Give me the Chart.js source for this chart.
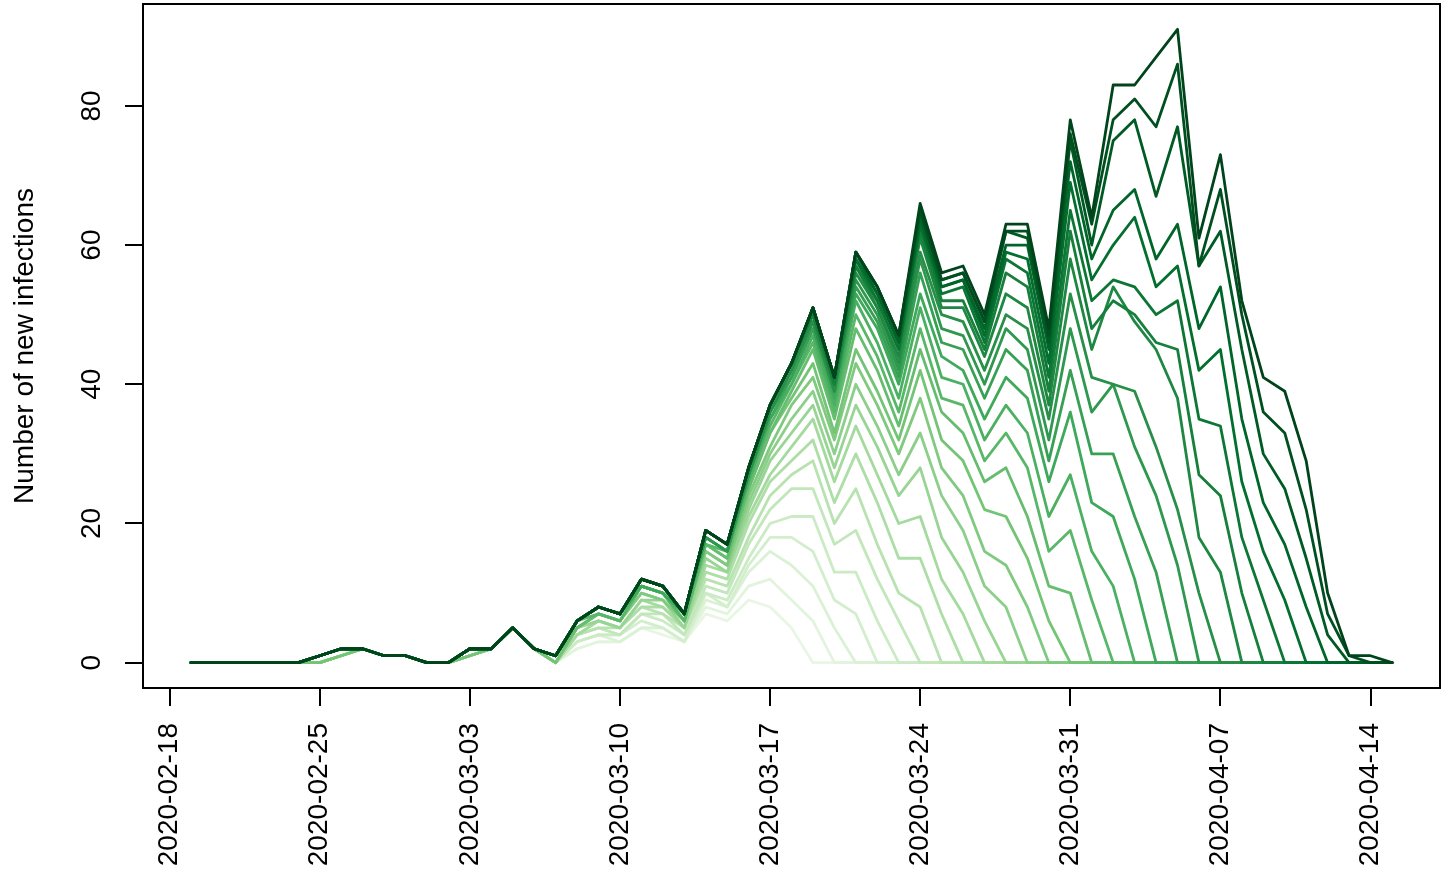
<!DOCTYPE html>
<html>
<head>
<meta charset="utf-8">
<script src="https://cdn.jsdelivr.net/npm/chart.js@4.4.1/dist/chart.umd.min.js"></script>
<style>
  html, body { margin: 0; padding: 0; background: #ffffff; }
  #wrap { width: 1447px; height: 871px; }
</style>
</head>
<body>
<div id="wrap"><canvas id="c" width="1447" height="871"></canvas></div>
<script>
// ---- categories: onset dates (x values) ----
const dates = [
  '2020-02-19','2020-02-20','2020-02-21','2020-02-22','2020-02-23','2020-02-24','2020-02-25','2020-02-26','2020-02-27','2020-02-28','2020-02-29',
  '2020-03-01','2020-03-02','2020-03-03','2020-03-04','2020-03-05','2020-03-06','2020-03-07','2020-03-08','2020-03-09','2020-03-10',
  '2020-03-11','2020-03-12','2020-03-13','2020-03-14','2020-03-15','2020-03-16','2020-03-17','2020-03-18','2020-03-19','2020-03-20',
  '2020-03-21','2020-03-22','2020-03-23','2020-03-24','2020-03-25','2020-03-26','2020-03-27','2020-03-28','2020-03-29','2020-03-30','2020-03-31',
  '2020-04-01','2020-04-02','2020-04-03','2020-04-04','2020-04-05','2020-04-06','2020-04-07','2020-04-08','2020-04-09','2020-04-10',
  '2020-04-11','2020-04-12','2020-04-13','2020-04-14','2020-04-15'
];

// ---- tick labels ----
const xTickLabels = ['2020-02-18','2020-02-25','2020-03-03','2020-03-10','2020-03-17','2020-03-24','2020-03-31','2020-04-07','2020-04-14'];
const yTickValues = [0, 20, 40, 60, 80];
const yTitle = 'Number of new infections';

// ---- series: counts by date, one line per data version (lightest = oldest) ----
const n0319 = [0,0,0,0,0,0,0,1,2,1,1,0,0,1,2,5,2,0, 2,3,3,5,4,3,7,6, 9,8,5,
  0,0,0,0,0, 0,0,0,0,0, 0,0,0,0,0, 0,0,0,0,0, 0,0,0,0,0, 0,0,0];
const n0320 = [0,0,0,0,0,0,0,1,2,1,1,0,0,1,2,5,2,0, 2,3,3,5,5,3,8,7, 11,12,9,6,
  0,0,0,0,0, 0,0,0,0,0, 0,0,0,0,0, 0,0,0,0,0, 0,0,0,0,0, 0,0];
const n0321 = [0,0,0,0,0,0,0,1,2,1,1,0,0,1,2,5,2,0, 3,4,3,5,5,3,9,8, 13,16,14,11,5,
  0,0,0,0,0, 0,0,0,0,0, 0,0,0,0,0, 0,0,0,0,0, 0,0,0,0,0, 0];
const n0322 = [0,0,0,0,0,0,0,1,2,1,1,0,0,1,2,5,2,0, 3,4,4,6,5,3,10,8, 14,18,18,16,9,7,
  0,0,0,0,0, 0,0,0,0,0, 0,0,0,0,0, 0,0,0,0,0, 0,0,0,0,0];
const n0323 = [0,0,0,0,0,0,0,1,2,1,1,0,0,1,2,5,2,0, 3,4,4,7,6,4,10,9, 15,20,21,21,13,13,6,
  0,0,0,0,0, 0,0,0,0,0, 0,0,0,0,0, 0,0,0,0,0, 0,0,0,0];
const n0324 = [0,0,0,0,0,0,0,1,2,1,1,0,0,1,2,5,2,0, 4,5,4,7,7,4,11,10, 17,22,25,25,17,19,12,6,
  0,0,0,0,0, 0,0,0,0,0, 0,0,0,0,0, 0,0,0,0,0, 0,0,0];
const n0325 = [0,0,0,0,0,0,0,1,2,1,1,0,0,1,2,5,2,0, 4,5,5,8,7,5,12,11, 18,24,27,29,20,25,17,10,8,
  0,0,0,0,0, 0,0,0,0,0, 0,0,0,0,0, 0,0,0,0,0, 0,0];
const n0326 = [0,0,0,0,0,0,0,1,2,1,1,0,0,1,2,5,2,0, 4,6,5,8,8,5,13,12, 20,26,29,32,23,30,23,15,15,7,
  0,0,0,0,0, 0,0,0,0,0, 0,0,0,0,0, 0,0,0,0,0, 0];
const n0327 = [0,0,0,0,0,0,0,1,2,1,1,0,0,1,2,5,2,0, 4,6,5,9,8,5,14,13, 21,27,31,35,26,34,27,20,21,12,7,
  0,0,0,0,0, 0,0,0,0,0, 0,0,0,0,0, 0,0,0,0,0];
const n0328 = [0,0,0,0,0,0,0,1,2,1,1,0,0,1,2,5,2,0, 5,6,5,9,9,5,15,13, 22,29,33,37,28,37,31,24,28,18,13,6,
  0,0,0,0,0, 0,0,0,0,0, 0,0,0,0,0, 0,0,0,0];
const n0329 = [0,0,0,0,0,0,0,1,2,1,1,0,0,1,2,5,2,0, 5,7,6,10,9,6,16,14, 23,30,35,39,30,40,34,27,33,24,19,11,8,
  0,0,0,0,0, 0,0,0,0,0, 0,0,0,0,0, 0,0,0];
const n0330 = [0,0,0,0,0,0,0,1,2,1,1,0,0,1,2,5,2,0, 5,7,6,10,9,6,16,14, 24,31,37,41,32,43,37,30,38,28,24,16,14,8,
  0,0,0,0,0, 0,0,0,0,0, 0,0,0,0,0, 0,0];
const n0331 = [0,0,0,0,0,0,0,1,2,1,1,0,0,1,2,5,2,0, 5,7,6,11,10,6,17,15, 25,33,38,43,33,45,39,32,42,32,29,22,21,15,6,
  0,0,0,0,0, 0,0,0,0,0, 0,0,0,0,0, 0];
const n0401 = [0,0,0,0,0,0,1,2,2,1,1,0,0,2,2,5,2,1, 5,7,6,11,10,6,17,15, 25,33,39,45,35,48,42,34,45,36,33,26,28,21,11,10,
  0,0,0,0,0, 0,0,0,0,0, 0,0,0,0,0];
const n0402 = [0,0,0,0,0,0,1,2,2,1,1,0,0,2,2,5,2,1, 6,7,6,11,10,6,17,16, 26,34,40,46,36,50,44,36,48,38,37,29,33,28,16,19,9,
  0,0,0,0,0, 0,0,0,0,0, 0,0,0,0];
const n0403 = [0,0,0,0,0,0,1,2,2,1,1,0,0,2,2,5,2,1, 6,8,7,11,10,7,18,16, 26,35,40,47,37,52,46,38,51,41,40,32,37,33,21,27,16,11,
  0,0,0,0,0, 0,0,0,0,0, 0,0,0];
const n0404 = [0,0,0,0,0,0,1,2,2,1,1,0,0,2,2,5,2,1, 6,8,7,11,10,7,18,16, 27,35,41,48,38,53,48,40,53,44,42,35,41,38,26,36,23,21,12,
  0,0,0,0,0, 0,0,0,0,0, 0,0];
const n0405 = [0,0,0,0,0,0,1,2,2,1,1,0,0,2,2,5,2,1, 6,8,7,12,11,7,18,16, 27,36,41,48,39,54,49,41,56,46,45,38,45,42,29,42,30,30,21,13,
  0,0,0,0,0, 0,0,0,0,0, 0];
const n0406 = [0,0,0,0,0,0,1,2,2,1,1,0,0,2,2,5,2,1, 6,8,7,12,11,7,18,16, 27,36,42,49,39,55,50,42,58,48,47,40,48,45,32,48,36,40,31,24,14,
  0,0,0,0,0, 0,0,0,0,0];
const n0407 = [0,0,0,0,0,0,1,2,2,1,1,0,0,2,2,5,2,1, 6,8,7,12,11,7,19,17, 27,36,42,49,39,56,51,43,59,50,49,42,50,48,35,53,41,40,39,31,22,10,
  0,0,0,0,0, 0,0,0,0];
const n0408 = [0,0,0,0,0,0,1,2,2,1,1,0,0,2,2,5,2,1, 6,8,7,12,11,7,19,17,28,37, 43,50,40,57,51,44,61,51,51,44,53,51,37,58,45,54,49,45,38,18,13,
  0,0,0,0,0, 0,0,0];
const n0409 = [0,0,0,0,0,0,1,2,2,1,1,0,0,2,2,5,2,1, 6,8,7,12,11,7,19,17,28,37,43, 50,40,57,52,45,62,52,52,45,56,54,39,62,48,52,50,46,45,27,24,10,
  0,0,0,0,0, 0,0];
const n0410 = [0,0,0,0,0,0,1,2,2,1,1,0,0,2,2,5,2,1, 6,8,7,12,11,7,19,17,28,37,43,51, 41,58,52,45,63,53,54,46,58,56,41,65,52,55,54,50,52,35,34,18,9,
  0,0,0,0,0, 0];
const n0411 = [0,0,0,0,0,0,1,2,2,1,1,0,0,2,2,5,2,1, 6,8,7,12,11,7,19,17,28,37,43,51,41, 58,53,46,63,54,55,47,59,58,43,69,55,60,64,54,57,42,45,26,16,9,
  0,0,0,0,0];
const n0412 = [0,0,0,0,0,0,1,2,2,1,1,0,0,2,2,5,2,1, 6,8,7,12,11,7,19,17,28,37,43,51,41,59, 53,46,64,54,55,48,60,60,45,72,58,65,68,58,63,48,54,35,23,17,8,
  0,0,0,0];
const n0413 = [0,0,0,0,0,0,1,2,2,1,1,0,0,2,2,5,2,1, 6,8,7,12,11,7,19,17,28,37,43,51,41,59,54, 47,65,55,56,49,62,61,46,75,60,75,78,67,77,57,62,45,30,25,15,4,
  0,0,0];
const n0414 = [0,0,0,0,0,0,1,2,2,1,1,0,0,2,2,5,2,1, 6,8,7,12,11,7,19,17,28,37,43,51,41,59,54,47, 65,55,56,49,62,62,47,76,63,78,81,77,86,57,68,50,36,33,22,7,1,
  0,0];
const n0415 = [0,0,0,0,0,0,1,2,2,1,1,0,0,2,2,5,2,1, 6,8,7,12,11,7,19,17,28,37,43,51,41,59,54,47,66,56,57,50,63,63,48,78,64,83,83,87,91,61,73,52,41,39,29,10,1,1,0];

const versions = [n0319,n0320,n0321,n0322,n0323,n0324,n0325,n0326,n0327,n0328,n0329,n0330,n0331,
  n0401,n0402,n0403,n0404,n0405,n0406,n0407,n0408,n0409,n0410,n0411,n0412,n0413,n0414,n0415];

// ---- styling helpers ----
const greens = ['#f7fcf5','#e5f5e0','#c7e9c0','#a1d99b','#74c476','#41ab5d','#238b45','#006d2c','#00441b'];
function hexToRgb(h){ return [1,3,5].map(i => parseInt(h.substr(i,2),16)); }
function ramp(p){
  const s = p * (greens.length - 1);
  const i = Math.min(Math.floor(s), greens.length - 2);
  const f = s - i;
  const a = hexToRgb(greens[i]), b = hexToRgb(greens[i+1]);
  const c = a.map((v,k) => Math.round(v + (b[k]-v)*f));
  return 'rgb(' + c.join(',') + ')';
}
const DAY = 86400000;
const origin = Date.parse(xTickLabels[0] + 'T00:00:00Z');
const toDay = d => (Date.parse(d + 'T00:00:00Z') - origin) / DAY;
const xs = dates.map(toDay);
const xTickValues = xTickLabels.map(toDay);

// R-style 4% axis extension
const xLo = Math.min(...xs), xHi = Math.max(...xs);
const allY = versions.flat();
const yLo = Math.min(...allY), yHi = Math.max(...allY);
const xPad = (xHi - xLo) * 0.04, yPad = (yHi - yLo) * 0.04;

const nV = versions.length;
const datasets = versions.map((vals, j) => ({
  data: vals.map((v, i) => ({ x: xs[i], y: v })),
  borderColor: ramp((j + 3) / (nV + 2)),
  borderWidth: 2.8,
  pointRadius: 0,
  tension: 0,
  fill: false,
  borderJoinStyle: 'round',
  borderCapStyle: 'round'
})).reverse(); // darkest first => drawn on top

const FONT = "'Liberation Sans', Arial, Helvetica, sans-serif";

const boxPlugin = {
  id: 'box',
  afterDraw(chart) {
    const { ctx, chartArea: a } = chart;
    ctx.save();
    ctx.strokeStyle = '#000';
    ctx.lineWidth = 2;
    ctx.strokeRect(a.left, a.top, a.right - a.left, a.bottom - a.top);
    ctx.restore();
  }
};

new Chart(document.getElementById('c'), {
  type: 'line',
  data: { datasets },
  options: {
    responsive: false,
    animation: false,
    devicePixelRatio: 1,
    layout: { padding: { top: 4, right: 7, left: 0, bottom: 0 } },
    plugins: { legend: { display: false }, tooltip: { enabled: false } },
    scales: {
      x: {
        type: 'linear',
        min: xLo - xPad,
        max: xHi + xPad,
        afterBuildTicks: s => { s.ticks = xTickValues.map(v => ({ value: v })); },
        afterFit: s => { s.height = 183; s.paddingLeft = 0; s.paddingRight = 0; },
        grid: { drawOnChartArea: false, drawTicks: true, tickLength: 18, color: '#000', lineWidth: 2 },
        border: { display: false },
        ticks: {
          autoSkip: false, minRotation: 90, maxRotation: 90, padding: 17, color: '#000',
          font: { family: FONT, size: 28 },
          callback: (v, i) => xTickLabels[i]
        }
      },
      y: {
        type: 'linear',
        min: yLo - yPad,
        max: yHi + yPad,
        afterBuildTicks: s => { s.ticks = yTickValues.map(v => ({ value: v })); },
        afterFit: s => { s.width = 143; s.paddingTop = 0; s.paddingBottom = 0; },
        grid: { drawOnChartArea: false, drawTicks: true, tickLength: 18, color: '#000', lineWidth: 2 },
        border: { display: false },
        ticks: {
          minRotation: 90, maxRotation: 90, crossAlign: 'center', padding: 17, color: '#000',
          font: { family: FONT, size: 28 },
          callback: v => String(v)
        },
        title: {
          display: true, text: yTitle, color: '#000',
          font: { family: FONT, size: 28 },
          padding: { top: 8, bottom: 0 }
        }
      }
    }
  },
  plugins: [boxPlugin]
});
</script>
</body>
</html>
